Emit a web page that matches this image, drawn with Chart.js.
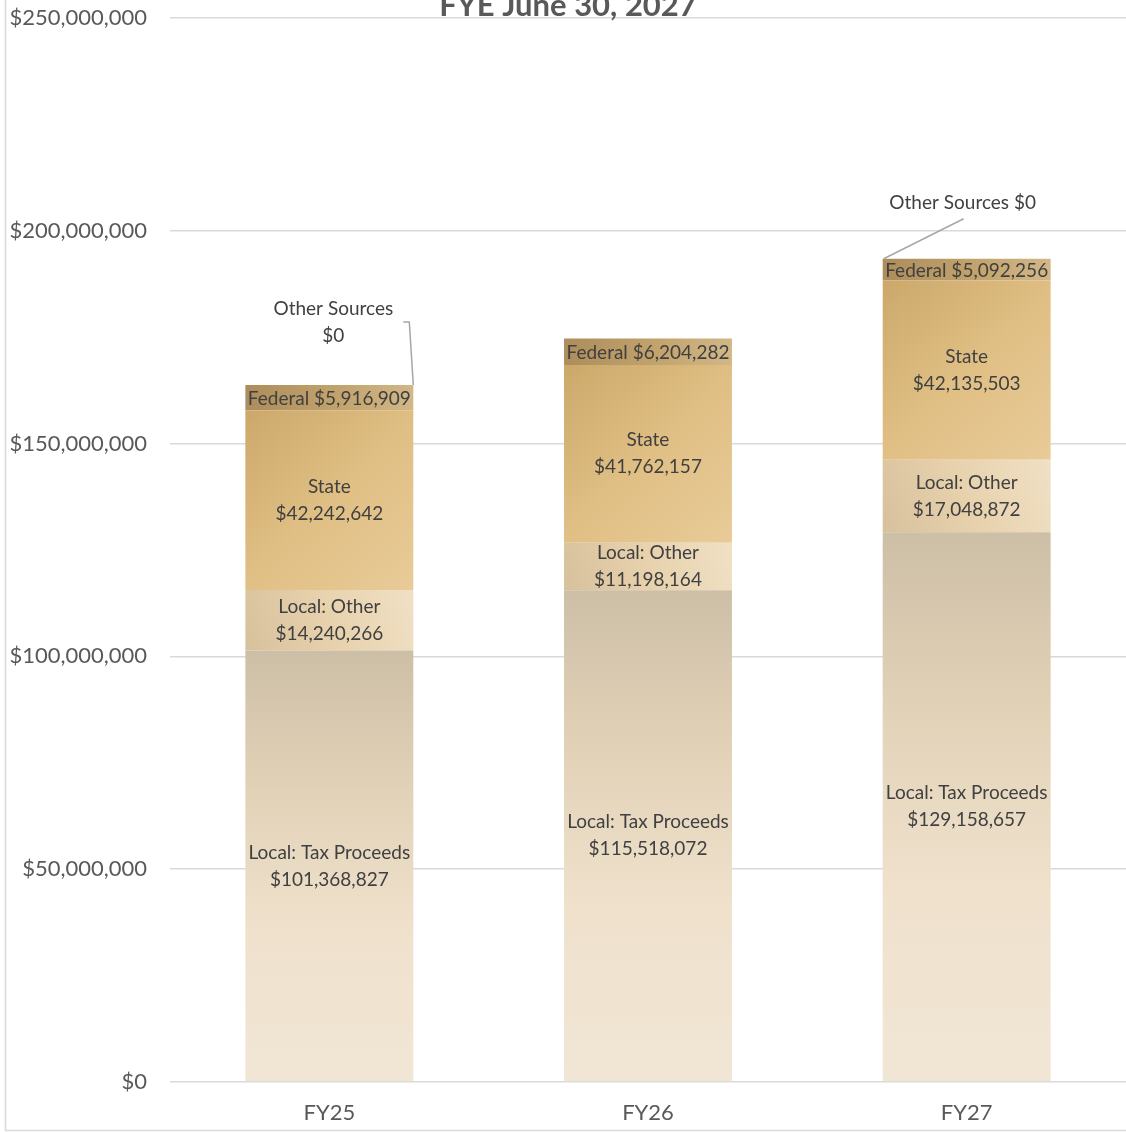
<!DOCTYPE html>
<html>
<head>
<meta charset="utf-8">
<script src="https://cdn.jsdelivr.net/npm/chart.js@4.4.1/dist/chart.umd.min.js"></script>
<style>
  html, body { margin: 0; padding: 0; background: #fff; }
  #wrap { width: 1126px; height: 1132px; }
</style>
</head>
<body>
<div id="wrap"><canvas id="revenue-chart" width="1126" height="1132"></canvas></div>
<script>
// data
const categories = ["FY25", "FY26", "FY27"];
const seriesNames = ["Local: Tax Proceeds", "Local: Other", "State", "Federal", "Other Sources"];
const localTax = [101368827, 115518072, 129158657];
const localOther = [14240266, 11198164, 17048872];
const stateFunds = [42242642, 41762157, 42135503];
const federalFunds = [5916909, 6204282, 5092256];
const otherSources = [0, 0, 0];
const yTicks = [0, 50000000, 100000000, 150000000, 200000000, 250000000];
const chartTitle = "FYE June 30, 2027";

const allSeries = [localTax, localOther, stateFunds, federalFunds, otherSources];
const FONT = "Lato, 'Noto Sans', sans-serif";
const BAR_PCT = 0.527;

const money = (v) => "$" + Number(v).toLocaleString("en-US");

// where a segment sits, worked out from the scales
function segmentBox(chart, di, i) {
  const ys = chart.scales.y, xs = chart.scales.x;
  let start = 0;
  for (let k = 0; k < di; k++) start += allSeries[k][i];
  const end = start + allSeries[di][i];
  const xc = xs.getPixelForValue(i);
  const w = (xs.width / categories.length) * BAR_PCT;
  return { left: xc - w / 2, right: xc + w / 2, top: ys.getPixelForValue(end), bottom: ys.getPixelForValue(start) };
}

const fills = [
  // local tax: darker at top, fading to pale cream
  (c, b) => {
    const g = c.createLinearGradient(0, b.top, 0, b.bottom);
    g.addColorStop(0, "#cdbfa6");
    g.addColorStop(0.35, "#e3d3b9");
    g.addColorStop(0.65, "#efe1cc");
    g.addColorStop(1, "#f1e6d5");
    return g;
  },
  (c, b) => {
    const g = c.createLinearGradient(b.left, b.bottom, b.right, b.top);
    g.addColorStop(0, "#d6c19c");
    g.addColorStop(0.5, "#e7d2ad");
    g.addColorStop(1, "#f0e0c5");
    return g;
  },
  (c, b) => {
    const g = c.createLinearGradient(b.left, b.top, b.right, b.bottom);
    g.addColorStop(0, "#cba86a");
    g.addColorStop(0.5, "#e0bf84");
    g.addColorStop(1, "#e8cb98");
    return g;
  },
  (c, b) => {
    const g = c.createLinearGradient(b.left, 0, b.right, 0);
    g.addColorStop(0, "#ad8d5b");
    g.addColorStop(0.55, "#c2a36d");
    g.addColorStop(1, "#d2b787");
    return g;
  },
  () => "#9c8a6a",
];

function fillFor(di) {
  return (ctx) => {
    const chart = ctx.chart;
    if (!chart.chartArea || !chart.scales.y) return "#e0cfb0";
    return fills[di](chart.ctx, segmentBox(chart, di, ctx.dataIndex));
  };
}

const datasets = allSeries.map((data, di) => ({
  label: seriesNames[di],
  data: data,
  backgroundColor: fillFor(di),
  borderWidth: 0,
  barPercentage: BAR_PCT,
  categoryPercentage: 1,
}));

// frame, title and data labels
const extras = {
  id: "extras",
  beforeDraw(chart) {
    const c = chart.ctx;
    c.save();
    c.strokeStyle = "#d9d9d9";
    c.lineWidth = 1.5;
    c.beginPath();
    c.moveTo(5.5, 0);
    c.lineTo(5.5, 1130.5);
    c.lineTo(chart.width, 1130.5);
    c.stroke();
    c.restore();
  },
  afterDraw(chart) {
    const c = chart.ctx;
    c.save();
    c.fillStyle = "#595959";
    c.font = "bold 31px " + FONT;
    c.textAlign = "center";
    c.textBaseline = "alphabetic";
    c.fillText(chartTitle, 568, 16);
    c.restore();
  },
  afterDatasetsDraw(chart) {
    const c = chart.ctx;
    const lh = 27;
    c.save();
    c.font = "19px " + FONT;
    c.fillStyle = "#404040";
    c.textAlign = "center";
    c.textBaseline = "middle";
    for (let di = 0; di < 4; di++) {
      const meta = chart.getDatasetMeta(di);
      meta.data.forEach((bar, i) => {
        const cy = (bar.y + bar.base) / 2;
        const v = money(allSeries[di][i]);
        if (di === 3) {
          c.fillText(seriesNames[di] + " " + v, bar.x, cy + 1);
        } else {
          c.fillText(seriesNames[di], bar.x, cy - lh / 2);
          c.fillText(v, bar.x, cy + lh / 2);
        }
      });
    }
    // other sources, with leader lines
    const meta = chart.getDatasetMeta(4);
    c.strokeStyle = "#a6a6a6";
    c.lineWidth = 1.5;
    const b0 = meta.data[0];
    if (b0) {
      const right = b0.x + b0.width / 2;
      c.fillText(seriesNames[4], b0.x + 4, b0.y - 76);
      c.fillText(money(otherSources[0]), b0.x + 4, b0.y - 49);
      c.beginPath();
      c.moveTo(right - 10, b0.y - 63);
      c.lineTo(right - 4, b0.y - 63);
      c.lineTo(right, b0.y);
      c.stroke();
    }
    const b2 = meta.data[2];
    if (b2) {
      const left = b2.x - b2.width / 2;
      c.fillText(seriesNames[4] + " " + money(otherSources[2]), b2.x - 4, b2.y - 56);
      c.beginPath();
      c.moveTo(b2.x - 3, b2.y - 40);
      c.lineTo(left + 1, b2.y);
      c.stroke();
    }
    c.restore();
  },
};

new Chart(document.getElementById("revenue-chart"), {
  type: "bar",
  data: { labels: categories, datasets: datasets },
  plugins: [extras],
  options: {
    responsive: false,
    animation: false,
    layout: { padding: { top: 18, right: 0, left: 0, bottom: 0 } },
    plugins: {
      legend: { display: false },
      tooltip: { enabled: false },
      title: { display: false },
    },
    scales: {
      x: {
        stacked: true,
        grid: { display: false, drawTicks: false },
        border: { display: false },
        ticks: { color: "#595959", font: { family: FONT, size: 22 }, padding: 18 },
        afterFit: (s) => { s.height = 50; },
      },
      y: {
        stacked: true,
        min: 0,
        max: 250000000,
        afterBuildTicks: (s) => { s.ticks = yTicks.map((v) => ({ value: v })); },
        grid: { color: "#d9d9d9", lineWidth: 1.5, drawTicks: false },
        border: { display: false },
        ticks: {
          color: "#595959",
          font: { family: FONT, size: 22 },
          padding: 23,
          callback: (v) => money(v),
        },
        afterFit: (s) => {
          s.width = 170;
          s.paddingTop = 0;
          s.paddingBottom = 0;
        },
      },
    },
  },
});
</script>
</body>
</html>
